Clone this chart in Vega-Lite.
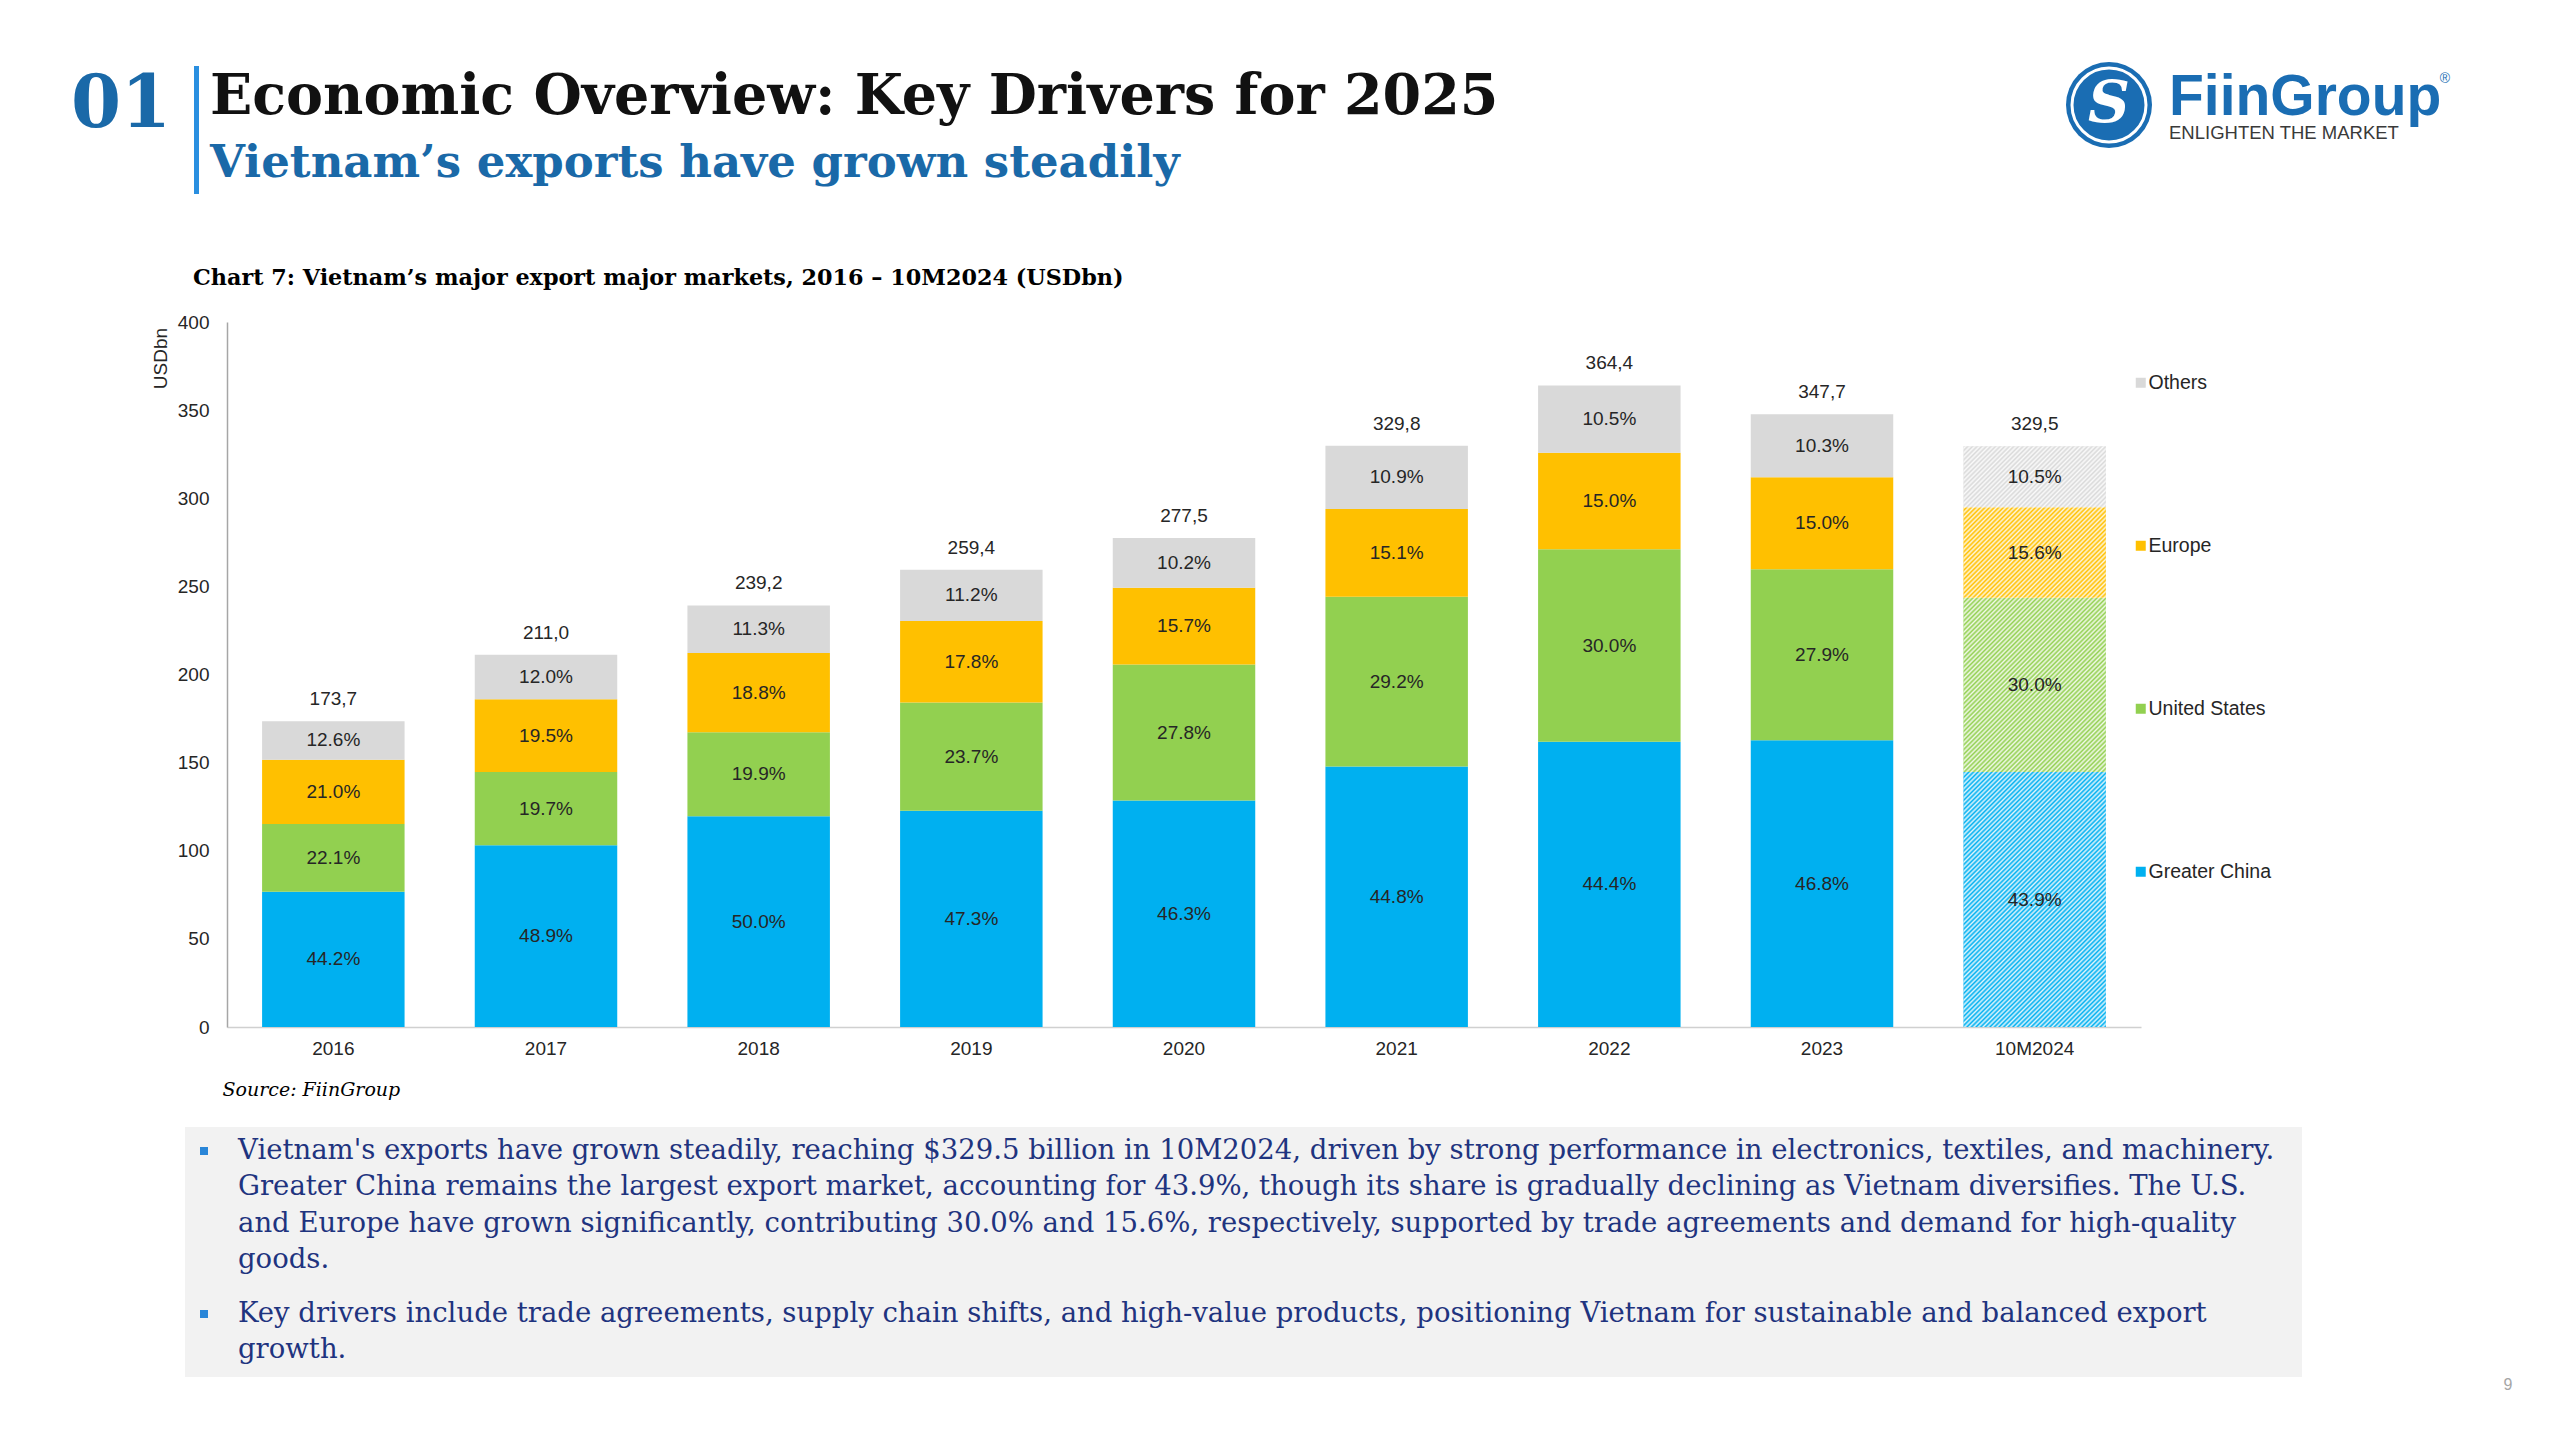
{
  "$schema": "https://vega.github.io/schema/vega-lite/v6.json",
  "background": "white",
  "padding": {"left": 70, "top": 62, "right": 0, "bottom": 0},
  "config": {"view": {"stroke": null}, "font": "Liberation Sans"},
  "datasets": {
    "seg": [
      {"period": "2016", "region": "Greater China", "k": 1, "value": 76.78, "share": 0.442},
      {"period": "2016", "region": "United States", "k": 2, "value": 38.39, "share": 0.221},
      {"period": "2016", "region": "Europe", "k": 3, "value": 36.48, "share": 0.21},
      {"period": "2016", "region": "Others", "k": 4, "value": 21.89, "share": 0.126},
      {"period": "2017", "region": "Greater China", "k": 1, "value": 103.18, "share": 0.489},
      {"period": "2017", "region": "United States", "k": 2, "value": 41.57, "share": 0.197},
      {"period": "2017", "region": "Europe", "k": 3, "value": 41.15, "share": 0.195},
      {"period": "2017", "region": "Others", "k": 4, "value": 25.32, "share": 0.12},
      {"period": "2018", "region": "Greater China", "k": 1, "value": 119.6, "share": 0.5},
      {"period": "2018", "region": "United States", "k": 2, "value": 47.6, "share": 0.199},
      {"period": "2018", "region": "Europe", "k": 3, "value": 44.97, "share": 0.188},
      {"period": "2018", "region": "Others", "k": 4, "value": 27.03, "share": 0.113},
      {"period": "2019", "region": "Greater China", "k": 1, "value": 122.7, "share": 0.473},
      {"period": "2019", "region": "United States", "k": 2, "value": 61.48, "share": 0.237},
      {"period": "2019", "region": "Europe", "k": 3, "value": 46.17, "share": 0.178},
      {"period": "2019", "region": "Others", "k": 4, "value": 29.05, "share": 0.112},
      {"period": "2020", "region": "Greater China", "k": 1, "value": 128.48, "share": 0.463},
      {"period": "2020", "region": "United States", "k": 2, "value": 77.15, "share": 0.278},
      {"period": "2020", "region": "Europe", "k": 3, "value": 43.57, "share": 0.157},
      {"period": "2020", "region": "Others", "k": 4, "value": 28.31, "share": 0.102},
      {"period": "2021", "region": "Greater China", "k": 1, "value": 147.75, "share": 0.448},
      {"period": "2021", "region": "United States", "k": 2, "value": 96.3, "share": 0.292},
      {"period": "2021", "region": "Europe", "k": 3, "value": 49.8, "share": 0.151},
      {"period": "2021", "region": "Others", "k": 4, "value": 35.95, "share": 0.109},
      {"period": "2022", "region": "Greater China", "k": 1, "value": 161.79, "share": 0.444},
      {"period": "2022", "region": "United States", "k": 2, "value": 109.32, "share": 0.3},
      {"period": "2022", "region": "Europe", "k": 3, "value": 54.66, "share": 0.15},
      {"period": "2022", "region": "Others", "k": 4, "value": 38.26, "share": 0.105},
      {"period": "2023", "region": "Greater China", "k": 1, "value": 162.72, "share": 0.468},
      {"period": "2023", "region": "United States", "k": 2, "value": 97.01, "share": 0.279},
      {"period": "2023", "region": "Europe", "k": 3, "value": 52.16, "share": 0.15},
      {"period": "2023", "region": "Others", "k": 4, "value": 35.81, "share": 0.103},
      {"period": "10M2024", "region": "Greater China", "k": 1, "value": 144.65, "share": 0.439},
      {"period": "10M2024", "region": "United States", "k": 2, "value": 98.85, "share": 0.3},
      {"period": "10M2024", "region": "Europe", "k": 3, "value": 51.4, "share": 0.156},
      {"period": "10M2024", "region": "Others", "k": 4, "value": 34.6, "share": 0.105}
    ],
    "tot": [
      {"period": "2016", "total": 173.7, "label": "173,7"},
      {"period": "2017", "total": 211.0, "label": "211,0"},
      {"period": "2018", "total": 239.2, "label": "239,2"},
      {"period": "2019", "total": 259.4, "label": "259,4"},
      {"period": "2020", "total": 277.5, "label": "277,5"},
      {"period": "2021", "total": 329.8, "label": "329,8"},
      {"period": "2022", "total": 364.4, "label": "364,4"},
      {"period": "2023", "total": 347.7, "label": "347,7"},
      {"period": "10M2024", "total": 329.5, "label": "329,5"}
    ],
    "notes": [
      {"p": 1, "ln": 1, "kind": "bullet", "t": ""},
      {"p": 1, "ln": 1, "kind": "text", "t": "Vietnam's exports have grown steadily, reaching $329.5 billion in 10M2024, driven by strong performance in electronics, textiles, and machinery."},
      {"p": 1, "ln": 2, "kind": "text", "t": "Greater China remains the largest export market, accounting for 43.9%, though its share is gradually declining as Vietnam diversifies. The U.S."},
      {"p": 1, "ln": 3, "kind": "text", "t": "and Europe have grown significantly, contributing 30.0% and 15.6%, respectively, supported by trade agreements and demand for high-quality"},
      {"p": 1, "ln": 4, "kind": "text", "t": "goods."},
      {"p": 2, "ln": 5, "kind": "bullet", "t": ""},
      {"p": 2, "ln": 5, "kind": "text", "t": "Key drivers include trade agreements, supply chain shifts, and high-value products, positioning Vietnam for sustainable and balanced export"},
      {"p": 2, "ln": 6, "kind": "text", "t": "growth."}
    ]
  },
  "spacing": 0,
  "vconcat": [
    {
      "spacing": 0,
      "bounds": "flush",
      "hconcat": [
        {"width": 96, "height": 77, "data": {"values": [{"t": "01"}]},
         "mark": {"type": "text", "font": "DejaVu Serif", "fontWeight": "bold", "fontSize": 72, "color": "#1a69a8", "align": "center", "baseline": "middle"},
         "encoding": {"text": {"field": "t", "type": "nominal"}}},
        {"width": 25, "height": 1, "data": {"values": []}, "mark": "point"},
        {"width": 5, "height": 128, "view": {"fill": "#2a8fe0"}, "data": {"values": []}, "mark": "point"},
        {"width": 10, "height": 1, "data": {"values": []}, "mark": "point"},
        {"width": 2, "height": 128,
         "data": {"values": [{"r": "t", "t": "Economic Overview: Key Drivers for 2025"}, {"r": "s", "t": "Vietnam’s exports have grown steadily"}]},
         "encoding": {
           "y": {"field": "r", "type": "nominal", "scale": {"type": "point", "domain": ["t", "s"], "range": [31, 97], "padding": 0}, "axis": null},
           "text": {"field": "t", "type": "nominal"}
         },
         "layer": [
           {"transform": [{"filter": "datum.r === 't'"}], "mark": {"type": "text", "align": "left", "baseline": "middle", "font": "DejaVu Serif", "fontWeight": "bold", "fontSize": 55.5, "color": "#111111"}},
           {"transform": [{"filter": "datum.r === 's'"}], "mark": {"type": "text", "align": "left", "baseline": "middle", "font": "DejaVu Serif", "fontWeight": "bold", "fontSize": 45, "color": "#1a69a8"}}
         ]},
        {"width": 1855, "height": 1, "data": {"values": []}, "mark": "point"},
        {"width": 86, "height": 78, "data": {"values": [{"t": "S"}]},
         "layer": [
           {"mark": {"type": "point", "shape": "circle", "filled": true, "size": 7396, "color": "#1a6db3", "opacity": 1}},
           {"mark": {"type": "point", "shape": "circle", "filled": false, "size": 5476, "color": "#ffffff", "strokeWidth": 3, "opacity": 1}},
           {"mark": {"type": "text", "font": "DejaVu Serif", "fontStyle": "italic", "fontWeight": "bold", "fontSize": 58, "color": "#ffffff", "align": "center", "baseline": "middle"},
            "encoding": {"text": {"field": "t", "type": "nominal"}}}
         ]},
        {"width": 16, "height": 1, "data": {"values": []}, "mark": "point"},
        {"width": 2, "height": 128,
         "data": {"values": [{"r": "a", "t": "FiinGroup"}, {"r": "b", "t": "ENLIGHTEN THE MARKET"}]},
         "encoding": {
           "y": {"field": "r", "type": "nominal", "scale": {"type": "point", "domain": ["a", "b"], "range": [32, 67], "padding": 0}, "axis": null},
           "text": {"field": "t", "type": "nominal"}
         },
         "layer": [
           {"transform": [{"filter": "datum.r === 'a'"}], "mark": {"type": "text", "align": "left", "baseline": "middle", "font": "Liberation Sans", "fontWeight": "bold", "fontSize": 57, "color": "#1a6db3"}},
           {"transform": [{"filter": "datum.r === 'b'"}], "mark": {"type": "text", "align": "left", "baseline": "middle", "font": "Liberation Sans", "fontSize": 18.5, "color": "#3a3a3a"}}
         ]},
        {"width": 274, "height": 1, "data": {"values": []}, "mark": "point"},
        {"width": 2, "height": 26, "data": {"values": [{"t": "®"}]},
         "mark": {"type": "text", "fontSize": 14, "color": "#1a6db3", "align": "center", "baseline": "middle"},
         "encoding": {"text": {"field": "t", "type": "nominal"}}}
      ]
    },
    {"width": 1, "height": 72, "data": {"values": []}, "mark": "point"},
    {
      "spacing": 0,
      "bounds": "flush",
      "hconcat": [
        {"width": 154, "height": 1, "data": {"values": []}, "mark": "point"},
        {
          "width": 1914,
          "height": 705,
          "title": {"text": "Chart 7: Vietnam’s major export major markets,  2016 – 10M2024 (USDbn)", "anchor": "start", "frame": "group", "dx": -34, "offset": 6, "baseline": "alphabetic", "font": "DejaVu Serif", "fontWeight": "bold", "fontSize": 22.3, "color": "#000000"},
          "encoding": {
            "x": {"field": "period", "type": "nominal",
                  "scale": {"domain": ["2016", "2017", "2018", "2019", "2020", "2021", "2022", "2023", "10M2024"], "paddingInner": 0.33, "paddingOuter": 0.165},
                  "axis": {"title": "Source: FiinGroup", "labelAngle": 0, "ticks": false, "labelPadding": 12, "labelFontSize": 19, "labelColor": "#262626", "domainColor": "#d0d0d0", "domainWidth": 1.5,
                           "titleX": -5, "titleY": 62, "titleAlign": "left", "titleBaseline": "middle", "titleFont": "DejaVu Serif", "titleFontStyle": "italic", "titleFontWeight": "normal", "titleFontSize": 19, "titleColor": "#000000"}}
          },
          "layer": [
            {
              "data": {"name": "seg"},
              "mark": {"type": "bar"},
              "encoding": {
                "y": {"field": "value", "type": "quantitative", "stack": "zero", "scale": {"domain": [0, 400], "nice": false},
                      "axis": {"title": "USDbn", "values": [0, 50, 100, 150, 200, 250, 300, 350, 400], "ticks": false, "grid": false, "labelPadding": 18, "labelFontSize": 19, "labelColor": "#262626", "domainColor": "#a6a6a6", "domainWidth": 1.5,
                               "titleX": -67, "titleY": 36, "titleAngle": -90, "titleAlign": "center", "titleBaseline": "middle", "titleFontSize": 19, "titleFontWeight": "normal", "titleColor": "#262626"}},
                "color": {"field": "region", "type": "nominal",
                          "scale": {"domain": ["Others", "Europe", "United States", "Greater China"], "range": ["#d9d9d9", "#ffc000", "#92d050", "#00b0f0"]},
                          "legend": {"title": null, "orient": "none", "legendX": 2058, "legendY": 307, "direction": "vertical", "symbolType": "square", "symbolSize": 100, "symbolStrokeWidth": 0, "labelFontSize": 19.5, "labelColor": "#262626", "rowPadding": 142, "labelOffset": -2, "padding": 0}},
                "order": {"field": "k", "type": "quantitative"}
              }
            },
            {
              "data": {"name": "tot"},
              "transform": [{"filter": "datum.period === '10M2024'"}],
              "mark": {"type": "bar", "fill": {"gradient": "linear", "x1": 0, "y1": 0, "x2": 0.36664, "y2": 1.49425, "stops": [
{"offset":0,"color":"#fff0"},{"offset":0.0025,"color":"#fffd"},{"offset":0.005,"color":"#fff0"},{"offset":0.0075,"color":"#fffd"},
{"offset":0.01,"color":"#fff0"},{"offset":0.0125,"color":"#fffd"},{"offset":0.015,"color":"#fff0"},{"offset":0.0175,"color":"#fffd"},
{"offset":0.02,"color":"#fff0"},{"offset":0.0225,"color":"#fffd"},{"offset":0.025,"color":"#fff0"},{"offset":0.0275,"color":"#fffd"},
{"offset":0.03,"color":"#fff0"},{"offset":0.0325,"color":"#fffd"},{"offset":0.035,"color":"#fff0"},{"offset":0.0375,"color":"#fffd"},
{"offset":0.04,"color":"#fff0"},{"offset":0.0425,"color":"#fffd"},{"offset":0.045,"color":"#fff0"},{"offset":0.0475,"color":"#fffd"},
{"offset":0.05,"color":"#fff0"},{"offset":0.0525,"color":"#fffd"},{"offset":0.055,"color":"#fff0"},{"offset":0.0575,"color":"#fffd"},
{"offset":0.06,"color":"#fff0"},{"offset":0.0625,"color":"#fffd"},{"offset":0.065,"color":"#fff0"},{"offset":0.0675,"color":"#fffd"},
{"offset":0.07,"color":"#fff0"},{"offset":0.0725,"color":"#fffd"},{"offset":0.075,"color":"#fff0"},{"offset":0.0775,"color":"#fffd"},
{"offset":0.08,"color":"#fff0"},{"offset":0.0825,"color":"#fffd"},{"offset":0.085,"color":"#fff0"},{"offset":0.0875,"color":"#fffd"},
{"offset":0.09,"color":"#fff0"},{"offset":0.0925,"color":"#fffd"},{"offset":0.095,"color":"#fff0"},{"offset":0.0975,"color":"#fffd"},
{"offset":0.1,"color":"#fff0"},{"offset":0.1025,"color":"#fffd"},{"offset":0.105,"color":"#fff0"},{"offset":0.1075,"color":"#fffd"},
{"offset":0.11,"color":"#fff0"},{"offset":0.1125,"color":"#fffd"},{"offset":0.115,"color":"#fff0"},{"offset":0.1175,"color":"#fffd"},
{"offset":0.12,"color":"#fff0"},{"offset":0.1225,"color":"#fffd"},{"offset":0.125,"color":"#fff0"},{"offset":0.1275,"color":"#fffd"},
{"offset":0.13,"color":"#fff0"},{"offset":0.1325,"color":"#fffd"},{"offset":0.135,"color":"#fff0"},{"offset":0.1375,"color":"#fffd"},
{"offset":0.14,"color":"#fff0"},{"offset":0.1425,"color":"#fffd"},{"offset":0.145,"color":"#fff0"},{"offset":0.1475,"color":"#fffd"},
{"offset":0.15,"color":"#fff0"},{"offset":0.1525,"color":"#fffd"},{"offset":0.155,"color":"#fff0"},{"offset":0.1575,"color":"#fffd"},
{"offset":0.16,"color":"#fff0"},{"offset":0.1625,"color":"#fffd"},{"offset":0.165,"color":"#fff0"},{"offset":0.1675,"color":"#fffd"},
{"offset":0.17,"color":"#fff0"},{"offset":0.1725,"color":"#fffd"},{"offset":0.175,"color":"#fff0"},{"offset":0.1775,"color":"#fffd"},
{"offset":0.18,"color":"#fff0"},{"offset":0.1825,"color":"#fffd"},{"offset":0.185,"color":"#fff0"},{"offset":0.1875,"color":"#fffd"},
{"offset":0.19,"color":"#fff0"},{"offset":0.1925,"color":"#fffd"},{"offset":0.195,"color":"#fff0"},{"offset":0.1975,"color":"#fffd"},
{"offset":0.2,"color":"#fff0"},{"offset":0.2025,"color":"#fffd"},{"offset":0.205,"color":"#fff0"},{"offset":0.2075,"color":"#fffd"},
{"offset":0.21,"color":"#fff0"},{"offset":0.2125,"color":"#fffd"},{"offset":0.215,"color":"#fff0"},{"offset":0.2175,"color":"#fffd"},
{"offset":0.22,"color":"#fff0"},{"offset":0.2225,"color":"#fffd"},{"offset":0.225,"color":"#fff0"},{"offset":0.2275,"color":"#fffd"},
{"offset":0.23,"color":"#fff0"},{"offset":0.2325,"color":"#fffd"},{"offset":0.235,"color":"#fff0"},{"offset":0.2375,"color":"#fffd"},
{"offset":0.24,"color":"#fff0"},{"offset":0.2425,"color":"#fffd"},{"offset":0.245,"color":"#fff0"},{"offset":0.2475,"color":"#fffd"},
{"offset":0.25,"color":"#fff0"},{"offset":0.2525,"color":"#fffd"},{"offset":0.255,"color":"#fff0"},{"offset":0.2575,"color":"#fffd"},
{"offset":0.26,"color":"#fff0"},{"offset":0.2625,"color":"#fffd"},{"offset":0.265,"color":"#fff0"},{"offset":0.2675,"color":"#fffd"},
{"offset":0.27,"color":"#fff0"},{"offset":0.2725,"color":"#fffd"},{"offset":0.275,"color":"#fff0"},{"offset":0.2775,"color":"#fffd"},
{"offset":0.28,"color":"#fff0"},{"offset":0.2825,"color":"#fffd"},{"offset":0.285,"color":"#fff0"},{"offset":0.2875,"color":"#fffd"},
{"offset":0.29,"color":"#fff0"},{"offset":0.2925,"color":"#fffd"},{"offset":0.295,"color":"#fff0"},{"offset":0.2975,"color":"#fffd"},
{"offset":0.3,"color":"#fff0"},{"offset":0.3025,"color":"#fffd"},{"offset":0.305,"color":"#fff0"},{"offset":0.3075,"color":"#fffd"},
{"offset":0.31,"color":"#fff0"},{"offset":0.3125,"color":"#fffd"},{"offset":0.315,"color":"#fff0"},{"offset":0.3175,"color":"#fffd"},
{"offset":0.32,"color":"#fff0"},{"offset":0.3225,"color":"#fffd"},{"offset":0.325,"color":"#fff0"},{"offset":0.3275,"color":"#fffd"},
{"offset":0.33,"color":"#fff0"},{"offset":0.3325,"color":"#fffd"},{"offset":0.335,"color":"#fff0"},{"offset":0.3375,"color":"#fffd"},
{"offset":0.34,"color":"#fff0"},{"offset":0.3425,"color":"#fffd"},{"offset":0.345,"color":"#fff0"},{"offset":0.3475,"color":"#fffd"},
{"offset":0.35,"color":"#fff0"},{"offset":0.3525,"color":"#fffd"},{"offset":0.355,"color":"#fff0"},{"offset":0.3575,"color":"#fffd"},
{"offset":0.36,"color":"#fff0"},{"offset":0.3625,"color":"#fffd"},{"offset":0.365,"color":"#fff0"},{"offset":0.3675,"color":"#fffd"},
{"offset":0.37,"color":"#fff0"},{"offset":0.3725,"color":"#fffd"},{"offset":0.375,"color":"#fff0"},{"offset":0.3775,"color":"#fffd"},
{"offset":0.38,"color":"#fff0"},{"offset":0.3825,"color":"#fffd"},{"offset":0.385,"color":"#fff0"},{"offset":0.3875,"color":"#fffd"},
{"offset":0.39,"color":"#fff0"},{"offset":0.3925,"color":"#fffd"},{"offset":0.395,"color":"#fff0"},{"offset":0.3975,"color":"#fffd"},
{"offset":0.4,"color":"#fff0"},{"offset":0.4025,"color":"#fffd"},{"offset":0.405,"color":"#fff0"},{"offset":0.4075,"color":"#fffd"},
{"offset":0.41,"color":"#fff0"},{"offset":0.4125,"color":"#fffd"},{"offset":0.415,"color":"#fff0"},{"offset":0.4175,"color":"#fffd"},
{"offset":0.42,"color":"#fff0"},{"offset":0.4225,"color":"#fffd"},{"offset":0.425,"color":"#fff0"},{"offset":0.4275,"color":"#fffd"},
{"offset":0.43,"color":"#fff0"},{"offset":0.4325,"color":"#fffd"},{"offset":0.435,"color":"#fff0"},{"offset":0.4375,"color":"#fffd"},
{"offset":0.44,"color":"#fff0"},{"offset":0.4425,"color":"#fffd"},{"offset":0.445,"color":"#fff0"},{"offset":0.4475,"color":"#fffd"},
{"offset":0.45,"color":"#fff0"},{"offset":0.4525,"color":"#fffd"},{"offset":0.455,"color":"#fff0"},{"offset":0.4575,"color":"#fffd"},
{"offset":0.46,"color":"#fff0"},{"offset":0.4625,"color":"#fffd"},{"offset":0.465,"color":"#fff0"},{"offset":0.4675,"color":"#fffd"},
{"offset":0.47,"color":"#fff0"},{"offset":0.4725,"color":"#fffd"},{"offset":0.475,"color":"#fff0"},{"offset":0.4775,"color":"#fffd"},
{"offset":0.48,"color":"#fff0"},{"offset":0.4825,"color":"#fffd"},{"offset":0.485,"color":"#fff0"},{"offset":0.4875,"color":"#fffd"},
{"offset":0.49,"color":"#fff0"},{"offset":0.4925,"color":"#fffd"},{"offset":0.495,"color":"#fff0"},{"offset":0.4975,"color":"#fffd"},
{"offset":0.5,"color":"#fff0"},{"offset":0.5025,"color":"#fffd"},{"offset":0.505,"color":"#fff0"},{"offset":0.5075,"color":"#fffd"},
{"offset":0.51,"color":"#fff0"},{"offset":0.5125,"color":"#fffd"},{"offset":0.515,"color":"#fff0"},{"offset":0.5175,"color":"#fffd"},
{"offset":0.52,"color":"#fff0"},{"offset":0.5225,"color":"#fffd"},{"offset":0.525,"color":"#fff0"},{"offset":0.5275,"color":"#fffd"},
{"offset":0.53,"color":"#fff0"},{"offset":0.5325,"color":"#fffd"},{"offset":0.535,"color":"#fff0"},{"offset":0.5375,"color":"#fffd"},
{"offset":0.54,"color":"#fff0"},{"offset":0.5425,"color":"#fffd"},{"offset":0.545,"color":"#fff0"},{"offset":0.5475,"color":"#fffd"},
{"offset":0.55,"color":"#fff0"},{"offset":0.5525,"color":"#fffd"},{"offset":0.555,"color":"#fff0"},{"offset":0.5575,"color":"#fffd"},
{"offset":0.56,"color":"#fff0"},{"offset":0.5625,"color":"#fffd"},{"offset":0.565,"color":"#fff0"},{"offset":0.5675,"color":"#fffd"},
{"offset":0.57,"color":"#fff0"},{"offset":0.5725,"color":"#fffd"},{"offset":0.575,"color":"#fff0"},{"offset":0.5775,"color":"#fffd"},
{"offset":0.58,"color":"#fff0"},{"offset":0.5825,"color":"#fffd"},{"offset":0.585,"color":"#fff0"},{"offset":0.5875,"color":"#fffd"},
{"offset":0.59,"color":"#fff0"},{"offset":0.5925,"color":"#fffd"},{"offset":0.595,"color":"#fff0"},{"offset":0.5975,"color":"#fffd"},
{"offset":0.6,"color":"#fff0"},{"offset":0.6025,"color":"#fffd"},{"offset":0.605,"color":"#fff0"},{"offset":0.6075,"color":"#fffd"},
{"offset":0.61,"color":"#fff0"},{"offset":0.6125,"color":"#fffd"},{"offset":0.615,"color":"#fff0"},{"offset":0.6175,"color":"#fffd"},
{"offset":0.62,"color":"#fff0"},{"offset":0.6225,"color":"#fffd"},{"offset":0.625,"color":"#fff0"},{"offset":0.6275,"color":"#fffd"},
{"offset":0.63,"color":"#fff0"},{"offset":0.6325,"color":"#fffd"},{"offset":0.635,"color":"#fff0"},{"offset":0.6375,"color":"#fffd"},
{"offset":0.64,"color":"#fff0"},{"offset":0.6425,"color":"#fffd"},{"offset":0.645,"color":"#fff0"},{"offset":0.6475,"color":"#fffd"},
{"offset":0.65,"color":"#fff0"},{"offset":0.6525,"color":"#fffd"},{"offset":0.655,"color":"#fff0"},{"offset":0.6575,"color":"#fffd"},
{"offset":0.66,"color":"#fff0"},{"offset":0.6625,"color":"#fffd"},{"offset":0.665,"color":"#fff0"},{"offset":0.6675,"color":"#fffd"},
{"offset":0.67,"color":"#fff0"},{"offset":0.6725,"color":"#fffd"},{"offset":0.675,"color":"#fff0"},{"offset":0.6775,"color":"#fffd"},
{"offset":0.68,"color":"#fff0"},{"offset":0.6825,"color":"#fffd"},{"offset":0.685,"color":"#fff0"},{"offset":0.6875,"color":"#fffd"},
{"offset":0.69,"color":"#fff0"},{"offset":0.6925,"color":"#fffd"},{"offset":0.695,"color":"#fff0"},{"offset":0.6975,"color":"#fffd"},
{"offset":0.7,"color":"#fff0"},{"offset":0.7025,"color":"#fffd"},{"offset":0.705,"color":"#fff0"},{"offset":0.7075,"color":"#fffd"},
{"offset":0.71,"color":"#fff0"},{"offset":0.7125,"color":"#fffd"},{"offset":0.715,"color":"#fff0"},{"offset":0.7175,"color":"#fffd"},
{"offset":0.72,"color":"#fff0"},{"offset":0.7225,"color":"#fffd"},{"offset":0.725,"color":"#fff0"},{"offset":0.7275,"color":"#fffd"},
{"offset":0.73,"color":"#fff0"},{"offset":0.7325,"color":"#fffd"},{"offset":0.735,"color":"#fff0"},{"offset":0.7375,"color":"#fffd"},
{"offset":0.74,"color":"#fff0"},{"offset":0.7425,"color":"#fffd"},{"offset":0.745,"color":"#fff0"},{"offset":0.7475,"color":"#fffd"},
{"offset":0.75,"color":"#fff0"},{"offset":0.7525,"color":"#fffd"},{"offset":0.755,"color":"#fff0"},{"offset":0.7575,"color":"#fffd"},
{"offset":0.76,"color":"#fff0"},{"offset":0.7625,"color":"#fffd"},{"offset":0.765,"color":"#fff0"},{"offset":0.7675,"color":"#fffd"},
{"offset":0.77,"color":"#fff0"},{"offset":0.7725,"color":"#fffd"},{"offset":0.775,"color":"#fff0"},{"offset":0.7775,"color":"#fffd"},
{"offset":0.78,"color":"#fff0"},{"offset":0.7825,"color":"#fffd"},{"offset":0.785,"color":"#fff0"},{"offset":0.7875,"color":"#fffd"},
{"offset":0.79,"color":"#fff0"}
              ]}},
              "encoding": {
                "y": {"field": "total", "type": "quantitative", "stack": null, "scale": {"domain": [0, 400], "nice": false},
                      "axis": {"title": "USDbn", "values": [0, 50, 100, 150, 200, 250, 300, 350, 400], "ticks": false, "grid": false, "labelPadding": 18, "labelFontSize": 19, "labelColor": "#262626", "domainColor": "#a6a6a6", "domainWidth": 1.5,
                               "titleX": -67, "titleY": 36, "titleAngle": -90, "titleAlign": "center", "titleBaseline": "middle", "titleFontSize": 19, "titleFontWeight": "normal", "titleColor": "#262626"}}
              }
            },
            {
              "data": {"name": "seg"},
              "transform": [
                {"stack": "value", "groupby": ["period"], "sort": [{"field": "k", "order": "ascending"}], "as": ["v0", "v1"]},
                {"fold": ["v0", "v1"], "as": ["edge", "pos"]}
              ],
              "mark": {"type": "text", "fontSize": 19, "color": "#262626", "align": "center", "baseline": "middle"},
              "encoding": {
                "y": {"aggregate": "mean", "field": "pos", "type": "quantitative", "stack": null, "scale": {"domain": [0, 400], "nice": false},
                      "axis": {"title": "USDbn", "values": [0, 50, 100, 150, 200, 250, 300, 350, 400], "ticks": false, "grid": false, "labelPadding": 18, "labelFontSize": 19, "labelColor": "#262626", "domainColor": "#a6a6a6", "domainWidth": 1.5,
                               "titleX": -67, "titleY": 36, "titleAngle": -90, "titleAlign": "center", "titleBaseline": "middle", "titleFontSize": 19, "titleFontWeight": "normal", "titleColor": "#262626"}},
                "text": {"field": "share", "type": "quantitative", "format": ".1%"},
                "detail": {"field": "region", "type": "nominal"}
              }
            },
            {
              "data": {"name": "tot"},
              "mark": {"type": "text", "fontSize": 19, "color": "#262626", "align": "center", "baseline": "bottom", "dy": -12},
              "encoding": {
                "y": {"field": "total", "type": "quantitative", "stack": null, "scale": {"domain": [0, 400], "nice": false},
                      "axis": {"title": "USDbn", "values": [0, 50, 100, 150, 200, 250, 300, 350, 400], "ticks": false, "grid": false, "labelPadding": 18, "labelFontSize": 19, "labelColor": "#262626", "domainColor": "#a6a6a6", "domainWidth": 1.5,
                               "titleX": -67, "titleY": 36, "titleAngle": -90, "titleAlign": "center", "titleBaseline": "middle", "titleFontSize": 19, "titleFontWeight": "normal", "titleColor": "#262626"}},
                "text": {"field": "label", "type": "nominal"}
              }
            }
          ]
        }
      ]
    },
    {"width": 1, "height": 28, "data": {"values": []}, "mark": "point"},
    {
      "spacing": 0,
      "bounds": "flush",
      "hconcat": [
        {"width": 112, "height": 1, "data": {"values": []}, "mark": "point"},
        {
          "width": 2117,
          "height": 250,
          "view": {"fill": "#f2f2f2"},
          "data": {"name": "notes"},
          "encoding": {
            "x": {"field": "kind", "type": "nominal", "scale": {"type": "point", "domain": ["bullet", "text"], "range": [19, 53], "padding": 0}, "axis": null}
          },
          "layer": [
            {
              "transform": [{"filter": "datum.p === 1"}],
              "encoding": {"y": {"field": "ln", "type": "ordinal", "scale": {"type": "point", "domain": [1, 2, 3, 4], "range": [24, 133], "padding": 0}, "axis": null}},
              "layer": [
                {"transform": [{"filter": "datum.kind === 'text'"}], "mark": {"type": "text", "align": "left", "baseline": "middle", "font": "DejaVu Serif", "fontSize": 27.5, "color": "#1f347f"}, "encoding": {"text": {"field": "t", "type": "nominal"}}},
                {"transform": [{"filter": "datum.kind === 'bullet'"}], "mark": {"type": "square", "size": 64, "color": "#2a86d8", "opacity": 1}}
              ]
            },
            {
              "transform": [{"filter": "datum.p === 2"}],
              "encoding": {"y": {"field": "ln", "type": "ordinal", "scale": {"type": "point", "domain": [5, 6], "range": [187, 223], "padding": 0}, "axis": null}},
              "layer": [
                {"transform": [{"filter": "datum.kind === 'text'"}], "mark": {"type": "text", "align": "left", "baseline": "middle", "font": "DejaVu Serif", "fontSize": 27.5, "color": "#1f347f"}, "encoding": {"text": {"field": "t", "type": "nominal"}}},
                {"transform": [{"filter": "datum.kind === 'bullet'"}], "mark": {"type": "square", "size": 64, "color": "#2a86d8", "opacity": 1}}
              ]
            }
          ],
          "resolve": {"scale": {"y": "independent"}}
        },
        {"width": 205, "height": 1, "data": {"values": []}, "mark": "point"},
        {"width": 2, "height": 250, "data": {"values": [{"r": "p", "t": "9"}]},
         "mark": {"type": "text", "fontSize": 16, "color": "#a6a6a6", "align": "center", "baseline": "middle"},
         "encoding": {
           "y": {"field": "r", "type": "nominal", "scale": {"type": "point", "range": [258, 258]}, "axis": null},
           "text": {"field": "t", "type": "nominal"}
         }}
      ]
    }
  ]
}
